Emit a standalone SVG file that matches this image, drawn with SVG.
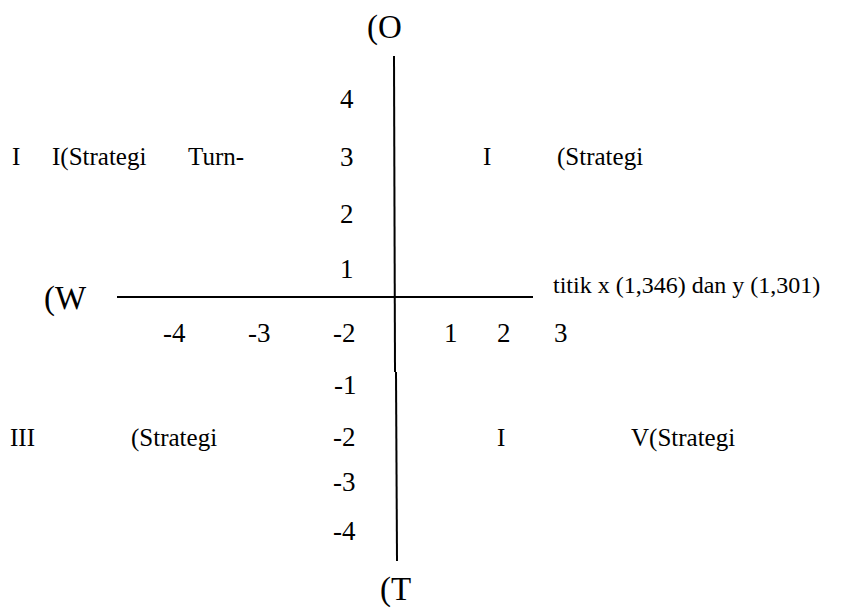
<svg xmlns="http://www.w3.org/2000/svg" width="855" height="608" viewBox="0 0 855 608">
<style>
text{font-family:"Liberation Serif","Times New Roman",serif;fill:#000}
.ax{stroke:#000;stroke-width:2;fill:none}
.t{font-size:27px}
.q{font-size:25px}
.big{font-size:33px}
.note{font-size:24px}
</style>
<rect width="855" height="608" fill="#fff"/>
<g id="axes">
<line class="ax" x1="117" y1="297" x2="533" y2="297"/>
<line class="ax" x1="394" y1="56" x2="395" y2="372"/>
<line class="ax" x1="396" y1="372" x2="397" y2="561"/>
</g>
<g id="axis-labels">
<text class="big" x="367" y="38">(O</text>
<text class="big" x="44" y="309">(W</text>
<text class="big" x="380" y="600">(T</text>
<text class="note" x="553" y="293">titik x (1,346) dan y (1,301)</text>
</g>
<g id="y-ticks">
<text class="t" x="340" y="108">4</text>
<text class="t" x="340" y="166">3</text>
<text class="t" x="340" y="223">2</text>
<text class="t" x="340" y="278">1</text>
<text class="t" x="334" y="394">-1</text>
<text class="t" x="333" y="446">-2</text>
<text class="t" x="333" y="491">-3</text>
<text class="t" x="333" y="540">-4</text>
</g>
<g id="x-ticks">
<text class="t" x="163" y="342">-4</text>
<text class="t" x="248" y="342">-3</text>
<text class="t" x="333" y="342">-2</text>
<text class="t" x="444" y="342">1</text>
<text class="t" x="497" y="342">2</text>
<text class="t" x="554" y="342">3</text>
</g>
<g id="quadrants">
<text class="q" x="12" y="165">I</text>
<text class="q" x="52" y="165">I(Strategi</text>
<text class="q" x="188" y="165">Turn-</text>
<text class="q" x="483" y="165">I</text>
<text class="q" x="557" y="165">(Strategi</text>
<text class="q" x="10" y="446">III</text>
<text class="q" x="131" y="446">(Strategi</text>
<text class="q" x="497" y="446">I</text>
<text class="q" x="631" y="446">V(Strategi</text>
</g>
</svg>
